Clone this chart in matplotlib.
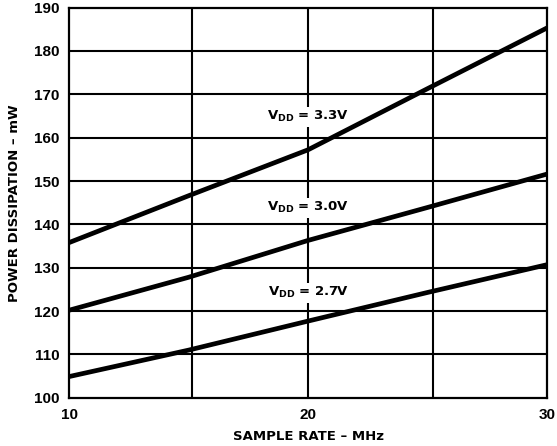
# Power dissipation vs sample rate

import matplotlib.pyplot as plt

plt.rcParams['font.family'] = ['Liberation Sans', 'DejaVu Sans']

# data
sample_rate = [10, 15, 20, 25, 30]
vdd_33 = [135.8, 146.6, 157.2, 171.3, 185.3]
vdd_30 = [120.2, 127.8, 136.3, 143.9, 151.6]
vdd_27 = [104.9, 111.0, 117.7, 124.3, 130.7]
labels = ["$\\mathbf{V_{DD}}$ = 3.3V", "$\\mathbf{V_{DD}}$ = 3.0V", "$\\mathbf{V_{DD}}$ = 2.7V"]
label_y = [164.8, 143.8, 124.2]

fig = plt.figure(figsize=(5.57, 4.46), dpi=100)
ax = fig.add_axes([0.124, 0.108, 0.858, 0.875])

# grid
for gx in [15.15, 20, 25.25]:
    ax.axvline(gx, color="black", lw=1.5, zorder=1)
for gy in range(110, 190, 10):
    ax.axhline(gy, color="black", lw=1.5, zorder=1)

for ys in [vdd_33, vdd_30, vdd_27]:
    ax.plot(sample_rate, ys, color="black", lw=3.4, zorder=3, solid_capstyle="butt")

for lab, ly in zip(labels, label_y):
    ax.text(20, ly, lab, ha="center", va="center", fontsize=9.5, fontweight="bold",
            family="DejaVu Sans",
            bbox=dict(facecolor="white", edgecolor="none", pad=1.5), zorder=2)

ax.set_xlim(10, 30)
ax.set_ylim(100, 190)
ax.set_xticks([10, 20, 30])
ax.set_yticks(range(100, 191, 10))
ax.tick_params(length=0, labelsize=11, pad=7)
for t in ax.get_xticklabels() + ax.get_yticklabels():
    t.set_fontweight("bold")
for s in ax.spines.values():
    s.set_linewidth(1.6)

ax.set_xlabel("SAMPLE RATE – MHz", fontsize=9.5, fontweight="bold",
              family="DejaVu Sans", labelpad=6)
ax.set_ylabel("POWER DISSIPATION – mW", fontsize=9.5, fontweight="bold",
              family="DejaVu Sans", labelpad=9)

plt.savefig("out.png", dpi=100)
